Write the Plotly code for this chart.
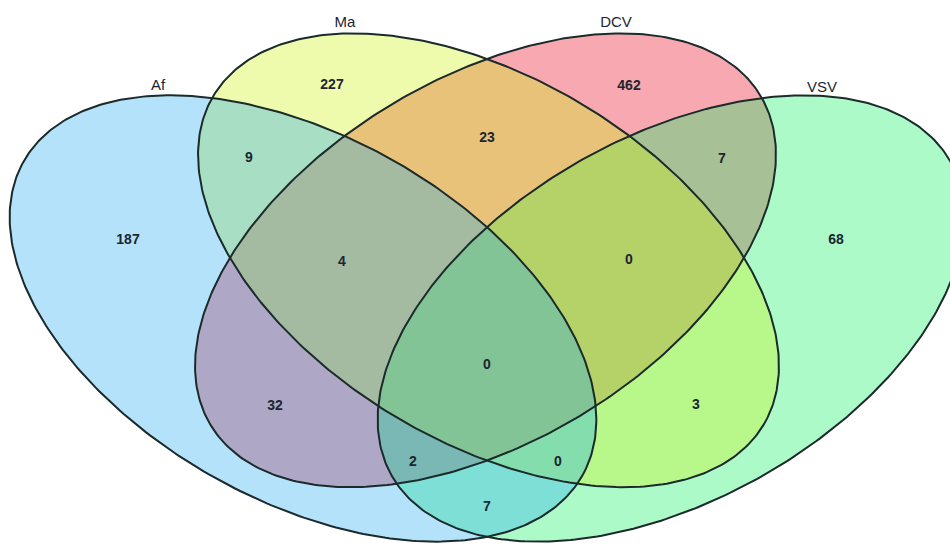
import numpy as np
import plotly.graph_objects as go

# ---- data ----
set_names = ["Af", "Ma", "DCV", "VSV"]
region_names = ["Af", "Ma", "DCV", "VSV", "Af&Ma", "Ma&DCV", "DCV&VSV", "Af&Ma&DCV",
                "Ma&DCV&VSV", "Af&Ma&DCV&VSV", "Af&DCV", "Ma&VSV", "Af&DCV&VSV",
                "Af&Ma&VSV", "Af&VSV"]
region_counts = [187, 227, 462, 68, 9, 23, 7, 4, 0, 0, 32, 3, 2, 0, 7]

# ---- layout geometry (pixel space of the 950x545 canvas) ----
AXIS_X = 487.0
A_SEMI, B_SEMI = 320.5, 182.0
ell_geom = {
    "Af": (303.0, 318.5, 29.3),
    "Ma": (488.5, 260.3, 30.9),
}
ell_geom["VSV"] = (2 * AXIS_X - ell_geom["Af"][0], ell_geom["Af"][1], 180 - ell_geom["Af"][2])
ell_geom["DCV"] = (2 * AXIS_X - ell_geom["Ma"][0], ell_geom["Ma"][1], 180 - ell_geom["Ma"][2])

set_label_pos = {"Af": (158, 86), "Ma": (345, 23), "DCV": (616, 23), "VSV": (822, 88)}
region_pos = [(128, 240), (332, 85), (629, 86), (836, 240), (249, 158), (487, 138), (722, 159),
              (342, 262), (629, 260), (487, 365), (275, 406), (696, 405), (413, 462),
              (558, 462), (487, 507)]

fill_colors = {"Af": "rgba(31,170,240,0.34)", "Ma": "rgba(205,243,20,0.35)",
               "DCV": "rgba(234,0,23,0.34)", "VSV": "rgba(14,240,96,0.34)"}
draw_order = ["DCV", "VSV", "Ma", "Af"]
LINE_COLOR = "#1b2a2a"
TEXT_COLOR = "#1c2630"
FONT = "Liberation Sans, Arial, sans-serif"


def ellipse(cx, cy, ang, n=400):
    t = np.linspace(0, 2 * np.pi, n)
    th = np.radians(ang)
    x = cx + A_SEMI * np.cos(t) * np.cos(th) - B_SEMI * np.sin(t) * np.sin(th)
    y = cy + A_SEMI * np.cos(t) * np.sin(th) + B_SEMI * np.sin(t) * np.cos(th)
    return x, y


fig = go.Figure()
for nm in draw_order:
    x, y = ellipse(*ell_geom[nm])
    fig.add_trace(go.Scatter(x=x, y=y, mode="lines", fill="toself", fillcolor=fill_colors[nm],
                             line=dict(width=0), hoverinfo="skip", name=nm))
for nm in draw_order:
    x, y = ellipse(*ell_geom[nm])
    fig.add_trace(go.Scatter(x=x, y=y, mode="lines", line=dict(color=LINE_COLOR, width=2),
                             hoverinfo="skip", name=nm + " outline"))

fig.add_trace(go.Scatter(
    x=[p[0] for p in region_pos], y=[p[1] for p in region_pos],
    mode="text", text=[f"<b>{c}</b>" for c in region_counts],
    textfont=dict(family=FONT, size=14, color=TEXT_COLOR),
    hovertext=region_names, hoverinfo="text"))
fig.add_trace(go.Scatter(
    x=[set_label_pos[s][0] for s in set_names], y=[set_label_pos[s][1] for s in set_names],
    mode="text", text=set_names,
    textfont=dict(family=FONT, size=15, color=TEXT_COLOR),
    hoverinfo="skip"))

fig.update_layout(width=950, height=545, margin=dict(l=0, r=0, t=0, b=0), showlegend=False,
                  plot_bgcolor="white", paper_bgcolor="white")
fig.update_xaxes(range=[0, 950], visible=False, fixedrange=True)
fig.update_yaxes(range=[545, 0], visible=False, fixedrange=True)
fig.write_html("out.html", config={"displayModeBar": False},
               post_script="document.body.style.margin='0px';")
